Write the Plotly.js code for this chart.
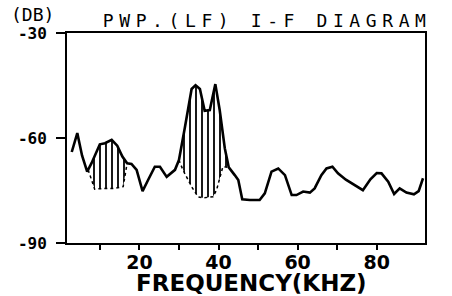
<!DOCTYPE html>
<html>
<head>
<meta charset="utf-8">
<script src="https://cdn.plot.ly/plotly-3.0.1.min.js"></script>
<style>html,body{margin:0;padding:0;background:#fff;}#chart{width:452px;height:296px;}</style>
</head>
<body>
<div id="chart"></div>
<script>
// Spectrum curve (frequency in kHz, level in dB)
const freq = [2.9,4.3,5.5,6.8,7.9,9.2,10.0,11.3,13.0,14.4,15.7,16.9,18.0,19.3,20.8,22.2,23.9,25.2,26.9,29.0,30.0,31.5,33.2,34.2,35.3,36.5,37.8,39.2,40.3,41.6,42.6,44.1,45.0,46.0,47.9,50.4,51.7,53.4,55.1,56.8,58.5,59.7,61.4,63.1,64.3,66.0,67.3,68.8,70.2,72.2,74.2,76.5,78.4,80.0,81.2,82.9,84.4,85.8,87.5,89.4,90.6,91.7];
const level = [-64,-58.6,-65,-69.6,-67.2,-63.9,-61.8,-61.5,-60.5,-62.2,-65.3,-67.2,-67.4,-69.1,-75.2,-72.0,-68.2,-68.2,-71.1,-69.1,-66.3,-57,-46,-44.9,-46,-52.2,-52,-44.6,-52,-63,-68.4,-70.6,-72.0,-77.5,-77.7,-77.7,-75.8,-69.6,-68.7,-70.6,-76.3,-76.3,-75.3,-75.6,-74.4,-70.6,-68.7,-68.2,-70.1,-71.9,-73.2,-74.9,-71.8,-70.0,-70.1,-72.5,-76.0,-74.4,-75.6,-76.1,-75.2,-71.5];
// Lower boundaries of the hatched areas
const hatch1Freq = [7.05,8.7,11.3,13.8,15.9,16.9];
const hatch1Low  = [-69.1,-74.6,-74.4,-74.4,-73.9,-67.2];
const hatch2Freq = [30.0,31.0,33.2,34.8,36.0,38.6,39.5,40.3,41.1,42.6];
const hatch2Low  = [-66.3,-69.1,-73.9,-76.8,-77.1,-76.8,-74.9,-71.1,-68.2,-68.4];
// Axis ticks
const xTickVals = [10,20,30,40,50,60,70,80];
const xTickText = ['','20','','40','','60','','80'];
const yTickVals = [-30,-60,-90];
const yTickText = ['-30','-60','-90'];
const titleText = 'PWP.(LF) I-F DIAGRAM';
const yUnitText = '(DB)';
const xTitleText = 'FREQUENCY(KHZ)';

function upperSegment(lowF, lowY){
  const f0 = lowF[0], f1 = lowF[lowF.length-1];
  const xs = [f0], ys = [lowY[0]];
  for (let i=0;i<freq.length;i++){ if (freq[i]>f0 && freq[i]<f1){ xs.push(freq[i]); ys.push(level[i]); } }
  xs.push(f1); ys.push(lowY[lowY.length-1]);
  return {x:xs, y:ys};
}
const pat = {shape:'|', size:6, solidity:0.3, fgcolor:'black', bgcolor:'white', fillmode:'replace'};
const traces = [];
[[hatch1Freq,hatch1Low],[hatch2Freq,hatch2Low]].forEach(([hf,hl])=>{
  traces.push({x:hf, y:hl, mode:'lines', line:{color:'black', width:1.5, dash:'dot'}, hoverinfo:'skip', showlegend:false});
  const u = upperSegment(hf, hl);
  traces.push({x:u.x, y:u.y, mode:'lines', line:{width:0, color:'black'}, fill:'tonexty', fillcolor:'white', fillpattern:pat, hoverinfo:'skip', showlegend:false});
});
traces.push({x:freq, y:level, mode:'lines', line:{color:'black', width:2.6}, showlegend:false});

const layout = {
  width:452, height:296,
  margin:{l:67, r:27, t:33, b:53},
  paper_bgcolor:'white', plot_bgcolor:'white',
  title:{text:titleText, font:{family:'DejaVu Sans Mono', size:18, color:'black'}, xref:'paper', x:0.1, xanchor:'left', yref:'container', y:0.93, yanchor:'middle'},
  xaxis:{range:[1.7,92.2], tickvals:xTickVals, ticktext:xTickText, ticks:'outside', ticklen:5, tickwidth:2, tickcolor:'black',
    showline:true, mirror:true, linecolor:'black', linewidth:2, showgrid:false, zeroline:false, automargin:false, ticklabelstandoff:-4,
    tickfont:{family:'DejaVu Sans', size:19, color:'black', weight:'bold'}},
  yaxis:{range:[-90,-30], tickvals:yTickVals, ticktext:yTickText, ticks:'outside', ticklen:9, tickwidth:2, tickcolor:'black',
    showline:true, mirror:true, linecolor:'black', linewidth:2, showgrid:false, zeroline:false, automargin:false, ticklabelstandoff:6,
    tickfont:{family:'DejaVu Sans Mono', size:16, color:'black', weight:'bold'}},
  annotations:[
    {text:yUnitText, xref:'paper', yref:'paper', x:-0.163, y:1.088, xanchor:'left', yanchor:'middle', showarrow:false,
     font:{family:'DejaVu Sans Mono', size:18, color:'black'}},
    {text:xTitleText, xref:'paper', yref:'paper', x:0.515, y:-0.19, xanchor:'center', yanchor:'middle', showarrow:false,
     font:{family:'DejaVu Sans', size:23, color:'black', weight:'bold'}}
  ]
};
Plotly.newPlot('chart', traces, layout, {staticPlot:true, displayModeBar:false}).then(()=>{
  const t = document.querySelector('.gtitle');
  if (t) t.style.letterSpacing = '5.6px';
});
</script>
</body>
</html>
